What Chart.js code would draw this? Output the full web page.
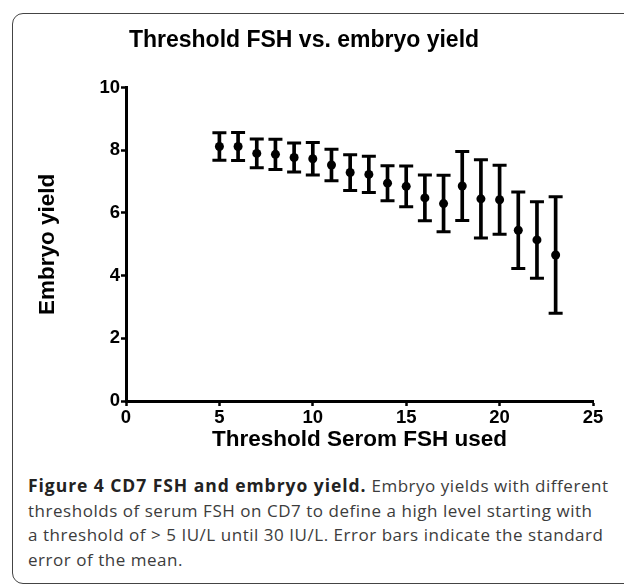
<!DOCTYPE html>
<html>
<head>
<meta charset="utf-8">
<script src="https://cdn.jsdelivr.net/npm/chart.js@4.4.1/dist/chart.umd.min.js"></script>
<style>
  html, body { margin: 0; padding: 0; background: #fff; }
  body { width: 624px; height: 586px; position: relative; overflow: hidden; }
  .frame {
    position: absolute; left: 12px; top: 13px; width: 660px; height: 571px;
    border: 1.5px solid #444; border-radius: 11px; box-sizing: border-box;
  }
  #wrap { position: absolute; left: 0; top: 0; width: 624px; height: 460px; }
  .caption {
    position: absolute; left: 28px; top: 473px;
    font-family: "Open Sans", sans-serif; font-size: 17px; line-height: 24.5px;
    letter-spacing: 0.53px;
    color: #3c3c3c; white-space: nowrap;
  }
  .caption b { color: #222; font-weight: 700; font-size: 17.5px; letter-spacing: 0.95px; }
</style>
</head>
<body>
<div class="frame"></div>
<div id="wrap"><canvas id="chart" width="624" height="460"></canvas></div>
<div class="caption">
  <b>Figure 4 CD7 FSH and embryo yield.</b> Embryo yields with different<br>
  thresholds of serum FSH on CD7 to define a high level starting with<br>
  a threshold of &gt; 5 IU/L until 30 IU/L. Error bars indicate the standard<br>
  error of the mean.
</div>
<script>
const thresholds = [5, 6, 7, 8, 9, 10, 11, 12, 13, 14, 15, 16, 17, 18, 19, 20, 21, 22, 23];
const embryoMean = [8.12, 8.12, 7.9, 7.87, 7.77, 7.73, 7.53, 7.29, 7.23, 6.95, 6.85, 6.48, 6.3, 6.86, 6.45, 6.42, 5.45, 5.14, 4.66];
const embryoSem = [0.44, 0.45, 0.46, 0.48, 0.46, 0.52, 0.5, 0.57, 0.58, 0.56, 0.65, 0.73, 0.9, 1.1, 1.25, 1.1, 1.22, 1.22, 1.86];
const xTicks = [0, 5, 10, 15, 20, 25];
const yTicks = [0, 2, 4, 6, 8, 10];

const font = "'Liberation Sans', Arial, sans-serif";

const errLines = thresholds.map((x, i) => ({ x: x, y: [embryoMean[i] - embryoSem[i], embryoMean[i] + embryoSem[i]] }));
const capsHigh = thresholds.map((x, i) => ({ x: x, y: embryoMean[i] + embryoSem[i] }));
const capsLow = thresholds.map((x, i) => ({ x: x, y: embryoMean[i] - embryoSem[i] }));
const means = thresholds.map((x, i) => ({ x: x, y: embryoMean[i] }));

const capStyle = {
  type: "scatter",
  pointStyle: "line",
  pointRadius: 7,
  pointHoverRadius: 7,
  borderWidth: 3,
  pointBorderWidth: 3,
  borderColor: "#000",
  backgroundColor: "#000",
};

const config = {
  type: "scatter",
  data: {
    datasets: [
      {
        type: "bar",
        data: errLines,
        backgroundColor: "#000",
        barThickness: 3,
        borderWidth: 0,
        grouped: false,
      },
      Object.assign({ data: capsHigh }, capStyle),
      Object.assign({ data: capsLow }, capStyle),
      {
        type: "scatter",
        data: means,
        pointRadius: 4.5,
        pointHoverRadius: 4.5,
        backgroundColor: "#000",
        borderColor: "#000",
        borderWidth: 0,
      },
    ],
  },
  options: {
    responsive: false,
    animation: false,
    events: [],
    layout: { padding: { left: 15, right: 31, top: 0, bottom: 0 } },
    plugins: {
      legend: { display: false },
      tooltip: { enabled: false },
      title: {
        display: true,
        text: "Threshold FSH vs. embryo yield",
        color: "#000",
        font: { family: font, size: 23, weight: "bold" },
        padding: { top: 27, bottom: 33 },
      },
    },
    scales: {
      x: {
        type: "linear",
        min: 0,
        max: 25,
        offset: false,
        afterBuildTicks: function (scale) {
          scale.ticks = xTicks.map((v) => ({ value: v }));
        },
        afterFit: function (scale) {
          scale.height = 59;
        },
        grid: { offset: false, drawOnChartArea: false, drawTicks: true, tickLength: 5, tickWidth: 2.5, color: "#000" },
        border: { display: true, width: 3, color: "#000" },
        ticks: { color: "#000", padding: 1, maxRotation: 0, font: { family: font, size: 18.5, weight: "bold" } },
        title: {
          display: true,
          text: "Threshold Serom FSH used",
          color: "#000",
          font: { family: font, size: 22.5, weight: "bold" },
          padding: { top: 0, bottom: 7 },
        },
      },
      y: {
        type: "linear",
        min: 0,
        max: 10,
        afterBuildTicks: function (scale) {
          scale.ticks = yTicks.map((v) => ({ value: v }));
        },
        afterFit: function (scale) {
          scale.width = 111;
        },
        grid: { drawOnChartArea: false, drawTicks: true, tickLength: 5, tickWidth: 2.5, color: "#000" },
        border: { display: true, width: 3, color: "#000" },
        ticks: { color: "#000", padding: 1, font: { family: font, size: 18.5, weight: "bold" } },
        title: {
          display: true,
          text: "Embryo yield",
          color: "#000",
          font: { family: font, size: 22.5, weight: "bold" },
          padding: { top: 19, bottom: 0 },
        },
      },
    },
  },
};

new Chart("chart", config);
</script>
</body>
</html>
